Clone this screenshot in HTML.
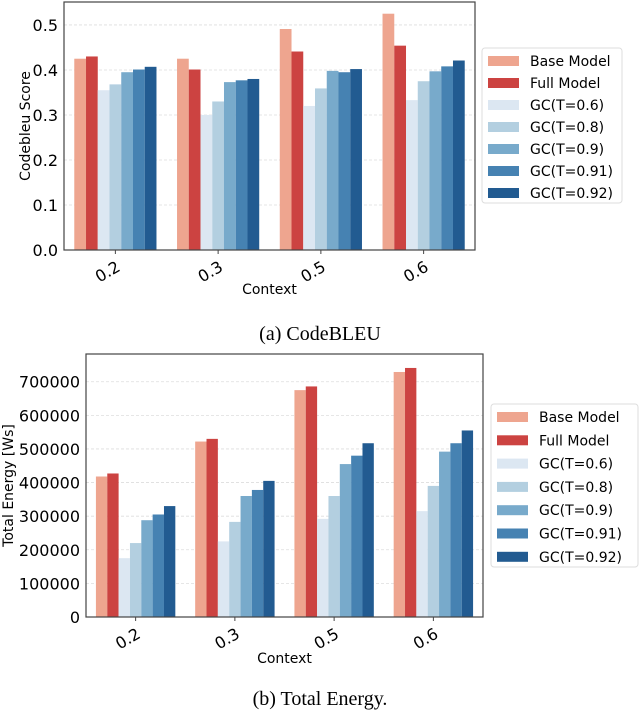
<!DOCTYPE html>
<html><head><meta charset="utf-8"><style>
body{margin:0;background:#fff;width:640px;height:715px;overflow:hidden}
svg{font-family:"DejaVu Sans","Liberation Sans",sans-serif}
</style></head><body>
<svg id="svg" width="640" height="715" xmlns="http://www.w3.org/2000/svg">
<g id="c1"></g>
<g id="c2"></g>
<text x="320" y="340" text-anchor="middle" font-family="Liberation Serif,serif" font-size="20">(a) CodeBLEU</text>
<text x="320" y="705" text-anchor="middle" font-family="Liberation Serif,serif" font-size="20">(b) Total Energy.</text>
</svg>
<script>
const categories=["0.2","0.3","0.5","0.6"];
const seriesNames=["Base Model","Full Model","GC(T=0.6)","GC(T=0.8)","GC(T=0.9)","GC(T=0.91)","GC(T=0.92)"];
const colors=["#eea58f","#cc4341","#dce7f2","#b3cfe0","#78aacb","#4682b2","#225b91"];
const codebleuBase=[0.425,0.425,0.491,0.525];
const codebleuFull=[0.430,0.401,0.441,0.454];
const codebleuT06=[0.355,0.300,0.320,0.333];
const codebleuT08=[0.368,0.330,0.359,0.375];
const codebleuT09=[0.395,0.373,0.398,0.397];
const codebleuT091=[0.401,0.377,0.395,0.408];
const codebleuT092=[0.407,0.380,0.402,0.421];
const codebleuTicks=[0,0.1,0.2,0.3,0.4,0.5];
const energyBase=[418000,522000,675000,729000];
const energyFull=[427000,530000,686000,741000];
const energyT06=[175000,225000,292000,315000];
const energyT08=[220000,283000,360000,390000];
const energyT09=[288000,360000,455000,492000];
const energyT091=[305000,378000,480000,517000];
const energyT092=[330000,405000,517000,555000];
const energyTicks=[0,100000,200000,300000,400000,500000,600000,700000];

const NS="http://www.w3.org/2000/svg";
function mk(p,tag,a){const e=document.createElementNS(NS,tag);for(const k in a)e.setAttribute(k,a[k]);p.appendChild(e);return e;}

function chart(g,o){
  const {L,R,T,B,ymax,series,ticks,fmt,ylabel,ylx,legX,legY,legW,legH,legStep,tickY,ctxY}=o;
  const n=categories.length, step=(R-L)/n, bw=step*0.8/7;
  const y=v=>B-(v/ymax)*(B-T);
  const x=i=>L+step*(i+0.5);
  ticks.forEach(t=>{
    const gl=mk(g,'line',{x1:L,x2:R,y1:y(t),y2:y(t),stroke:'#ddd','stroke-dasharray':'3,2','stroke-width':0.8});
    
    
    const tl=mk(g,'text',{x:L-6,y:y(t)+6,'text-anchor':'end','font-size':16});
    tl.textContent=fmt(t);
    
    
  });
  series.forEach((s,si)=>{
    s.forEach((v,ci)=>{
      const bx=x(ci)-step*0.4+si*bw;
      const r=mk(g,'rect',{x:bx,y:y(v),width:bw,height:B-y(v),fill:colors[si]});
      
      
    });
  });
  const fr=mk(g,'rect',{x:L,y:T,width:R-L,height:B-T,fill:'none',stroke:'#444','stroke-width':1.2});
  
  
  categories.forEach((c,ci)=>{
    mk(g,'line',{x1:x(ci),x2:x(ci),y1:B,y2:B+4,stroke:'#444'});
    const t=mk(g,'text',{x:x(ci)+6,y:tickY,'text-anchor':'end','font-size':16,transform:`rotate(-30 ${x(ci)+6} ${tickY})`});
    t.textContent=c;
    
    
  });
  const xl=mk(g,'text',{x:(L+R)/2,y:ctxY,'text-anchor':'middle','font-size':14});
  xl.textContent='Context';
  
  
  const yl=mk(g,'text',{x:ylx,y:(T+B)/2,'text-anchor':'middle','font-size':14,transform:`rotate(-90 ${ylx} ${(T+B)/2})`});
  yl.textContent=ylabel;
  
  
  const lb=mk(g,'rect',{x:legX,y:legY,width:legW,height:legH,rx:3,fill:'#fff',stroke:'#ddd'});
  
  
  seriesNames.forEach((nm,si)=>{
    const cy=legY+13+si*legStep;
    const sw=mk(g,'rect',{x:legX+6,y:cy-5,width:31,height:10,fill:colors[si]});
    
    
    const t=mk(g,'text',{x:legX+48,y:cy+5,'font-size':14});
    t.textContent=nm;
    
    
  });
}
chart(document.getElementById('c1'),{L:64,R:475,T:2,B:250,ymax:0.551,
  series:[codebleuBase,codebleuFull,codebleuT06,codebleuT08,codebleuT09,codebleuT091,codebleuT092],
  ticks:codebleuTicks,fmt:t=>t.toFixed(1),ylabel:'Codebleu Score',ylx:30,
  legX:482,legY:48,legW:140,legH:155,legStep:22,tickY:270,ctxY:294});
chart(document.getElementById('c2'),{L:86,R:483,T:354,B:617,ymax:782500,
  series:[energyBase,energyFull,energyT06,energyT08,energyT09,energyT091,energyT092],
  ticks:energyTicks,fmt:t=>String(t),ylabel:'Total Energy [Ws]',ylx:13,
  legX:491,legY:404,legW:147,legH:163,legStep:23.3,tickY:637,ctxY:663});
</script>
</body></html>
